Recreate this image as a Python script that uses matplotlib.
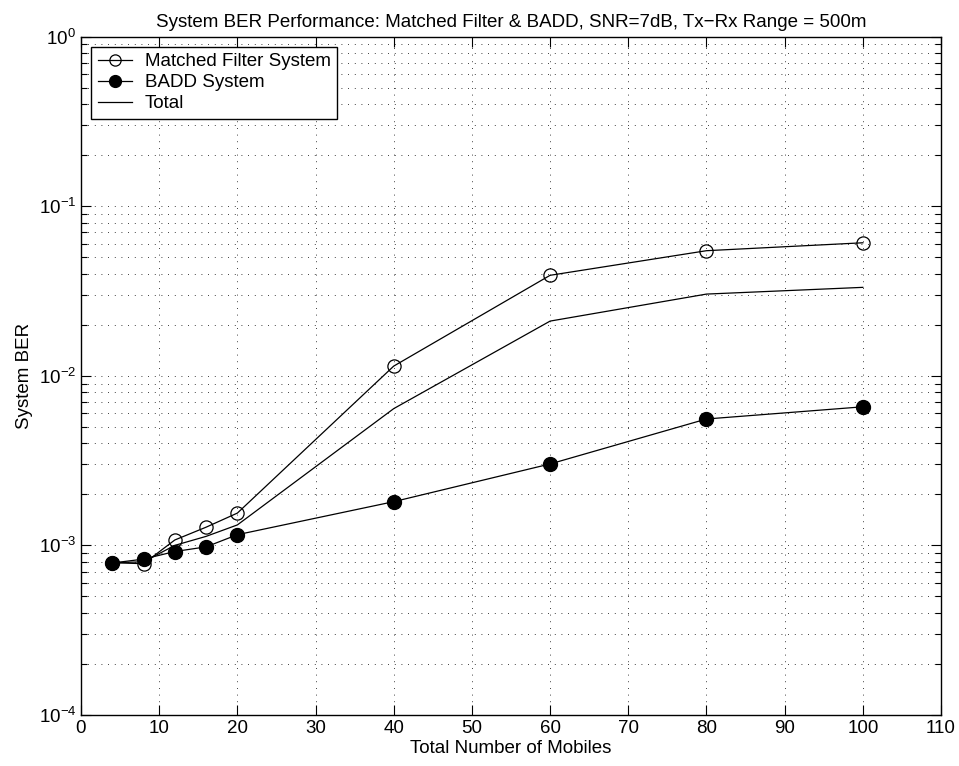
import matplotlib
matplotlib.use("Agg")
import matplotlib.pyplot as plt
from matplotlib.ticker import LogLocator, MultipleLocator, NullFormatter

plt.rcParams['font.family'] = ['Liberation Sans', 'DejaVu Sans']
plt.rcParams['mathtext.fontset'] = 'custom'
plt.rcParams['mathtext.rm'] = 'Liberation Sans'
plt.rcParams['mathtext.it'] = 'Liberation Sans'
plt.rcParams['mathtext.default'] = 'regular'

mobiles = [4, 8, 12, 16, 20, 40, 60, 80, 100]
ber_mf = [7.9e-4, 7.8e-4, 1.076e-3, 1.28e-3, 1.55e-3, 1.14e-2, 3.91e-2, 5.46e-2, 6.08e-2]
ber_badd = [7.87e-4, 8.3e-4, 9.2e-4, 9.8e-4, 1.156e-3, 1.81e-3, 3.02e-3, 5.56e-3, 6.56e-3]
ber_total = [7.9e-4, 8.0e-4, 1.0e-3, 1.13e-3, 1.32e-3, 6.4e-3, 2.1e-2, 3.03e-2, 3.32e-2]

title = "System BER Performance: Matched Filter & BADD, SNR=7dB, Tx\u2212Rx Range = 500m"
xlabel = "Total Number of Mobiles"
ylabel = "System BER"
labels = ["Matched Filter System", "BADD System", "Total"]

fs = 13.5
fig = plt.figure(figsize=(9.59, 7.66), dpi=100)
ax = fig.add_axes([81/959, 1 - 715/766, 860/959, 678.5/766])

ax.semilogy(mobiles, ber_mf, color='black', lw=0.9, marker='o', ms=9.5,
            mfc='none', mec='black', mew=0.9, label=labels[0])
ax.semilogy(mobiles, ber_badd, color='black', lw=0.9, marker='o', ms=10,
            mfc='black', mec='black', label=labels[1])
ax.semilogy(mobiles, ber_total, color='black', lw=0.9, label=labels[2])

ax.set_xlim(0, 110)
ax.set_ylim(1e-4, 1e0)
ax.xaxis.set_major_locator(MultipleLocator(10))
ax.yaxis.set_major_locator(LogLocator(base=10, numticks=10))
ax.yaxis.set_minor_locator(LogLocator(base=10, subs=range(2, 10), numticks=20))
ax.yaxis.set_minor_formatter(NullFormatter())

ax.tick_params(which='both', direction='in', top=True, right=True, labelsize=fs, colors='black')
ax.tick_params(which='major', length=7, width=0.8)
ax.tick_params(which='minor', length=4, width=0.8)
for s in ax.spines.values():
    s.set_linewidth(1.0)

grid_ls = (0, (1, 7))
ax.grid(True, which='major', axis='both', color='black', linestyle=grid_ls, lw=0.6)
ax.grid(True, which='minor', axis='y', color='black', linestyle=grid_ls, lw=0.6)

ax.set_title(title, fontsize=fs, pad=7)
ax.set_xlabel(xlabel, fontsize=fs, labelpad=2)
ax.set_ylabel(ylabel, fontsize=fs, labelpad=4)

leg = ax.legend(loc='upper left', fontsize=fs, frameon=True, fancybox=False,
                edgecolor='black', framealpha=1, borderpad=0.35, labelspacing=0.2,
                handlelength=1.8, handletextpad=0.7, borderaxespad=0.55, markerscale=0.85)
leg.get_frame().set_linewidth(1.0)

fig.savefig("out.png", dpi=100)
